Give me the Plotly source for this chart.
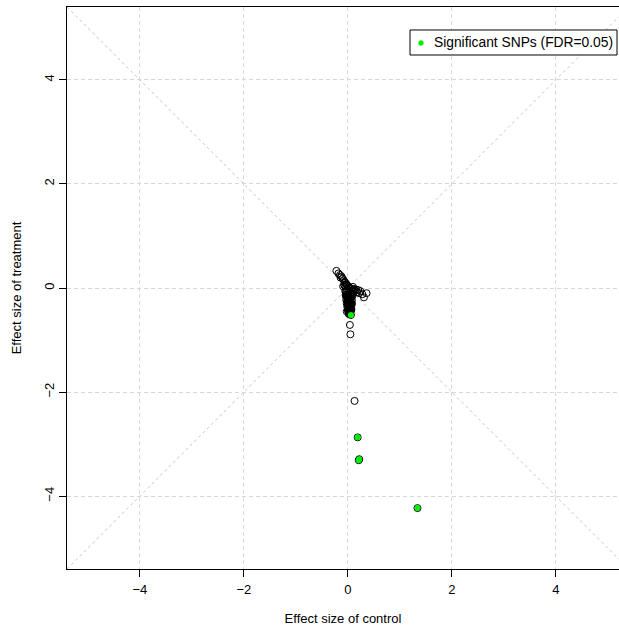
import plotly.graph_objects as go

# Effect sizes (control, treatment) for all SNPs
control = [
    -0.22, -0.18, -0.15, -0.14, -0.12, -0.10, -0.08, -0.06, -0.05, -0.03,
    0.36, 0.31, 0.28, 0.24, 0.22, 0.20, 0.18, 0.16, 0.12, 0.10,
    -0.06, -0.04, -0.02, 0.00, 0.02, 0.04, 0.06, 0.08, -0.05, -0.03,
    -0.01, 0.01, 0.03, 0.05, 0.07, -0.04, -0.02, 0.00, 0.02, 0.04,
    0.06, -0.03, -0.01, 0.01, 0.03, 0.05, 0.07, -0.02, 0.00, 0.02,
    0.04, 0.06, -0.01, 0.01, 0.03, 0.05, 0.00, 0.02, 0.04, 0.06,
    0.01, 0.03, 0.05, 0.02, 0.04, 0.06, 0.03, 0.05,
    -0.04, -0.02, 0.00, 0.02, 0.04, 0.06, 0.08, -0.03, -0.01, 0.01,
    0.03, 0.05, 0.07, -0.02, 0.00, 0.02, 0.04, 0.06, 0.08, 0.10,
    0.09, 0.11, 0.14, 0.08, 0.12, -0.07, -0.09,
    0.04, 0.05, 0.13,
    0.06, 0.19, 0.21, 0.22, 1.34,
]
treatment = [
    0.33, 0.28, 0.25, 0.20, 0.22, 0.18, 0.15, 0.12, 0.10, 0.08,
    -0.10, -0.18, -0.12, -0.06, -0.10, -0.04, -0.08, -0.03, -0.02, 0.02,
    0.05, 0.03, 0.06, 0.04, 0.02, 0.00, -0.02, -0.05, -0.06, -0.08,
    -0.10, -0.09, -0.12, -0.11, -0.14, -0.15, -0.17, -0.19, -0.18, -0.21,
    -0.20, -0.23, -0.25, -0.24, -0.27, -0.26, -0.29, -0.30, -0.32, -0.31,
    -0.34, -0.33, -0.36, -0.38, -0.37, -0.40, -0.42, -0.41, -0.44, -0.43,
    -0.46, -0.45, -0.47, -0.49, -0.48, -0.42, -0.36, -0.30,
    -0.13, -0.16, -0.22, -0.28, -0.35, -0.39, -0.12, -0.07, -0.27, -0.33,
    -0.19, -0.23, -0.41, -0.45, -0.15, -0.50, -0.20, -0.09, -0.24, -0.05,
    -0.15, -0.08, -0.05, -0.31, -0.03, 0.06, 0.03,
    -0.71, -0.89, -2.17,
    -0.52, -2.87, -3.31, -3.29, -4.23,
]
# Significant SNPs (FDR = 0.05)
sig_control = [0.06, 0.19, 0.21, 0.22, 1.34]
sig_treatment = [-0.52, -2.87, -3.31, -3.29, -4.23]

tick_vals = [-4, -2, 0, 2, 4]
tick_text = ["\u22124", "\u22122", "0", "2", "4"]
diag_x = [-5.4, 5.4]
legend_label = "Significant SNPs (FDR=0.05)"
sig_color = "#00ee00"

fig = go.Figure()
fig.add_trace(go.Scatter(
    x=control, y=treatment, mode="markers", showlegend=False,
    marker=dict(symbol="circle-open", size=7, color="black", line=dict(width=1)),
    hoverinfo="skip",
))
fig.add_trace(go.Scatter(
    x=sig_control, y=sig_treatment, mode="markers", showlegend=False,
    name=legend_label,
    marker=dict(symbol="circle", size=6, color=sig_color, line=dict(width=0)),
))

for sgn in (1, -1):
    fig.add_shape(type="line", x0=diag_x[0], y0=sgn * diag_x[0], x1=diag_x[1], y1=sgn * diag_x[1],
                  xref="x", yref="y", layer="below",
                  line=dict(color="#c8c8c8", width=1, dash="dot"))

# legend box drawn manually (R-style legend)
fig.add_shape(type="rect", xref="paper", yref="paper",
              x0=0.6214, x1=0.9964, y0=0.9146, y1=0.9591,
              line=dict(color="black", width=1), fillcolor="white", layer="above")
fig.add_shape(type="circle", xref="paper", yref="paper",
              xsizemode="pixel", ysizemode="pixel", xanchor=0.6413, yanchor=0.936,
              x0=-2.6, x1=2.6, y0=-2.6, y1=2.6,
              line=dict(width=0), fillcolor=sig_color, layer="above")
fig.add_annotation(xref="paper", yref="paper", x=0.6612, y=0.936, text=legend_label,
                   showarrow=False,
                   font=dict(family="Liberation Sans, Arial, sans-serif", size=13.8, color="black"),
                   xanchor="left", yanchor="middle")

font = dict(family="Liberation Sans, Arial, sans-serif", size=13, color="black")
grid = "#d8d8d8"
fig.update_layout(
    width=619, height=630,
    margin=dict(l=67, r=0, t=7, b=61),
    plot_bgcolor="white", paper_bgcolor="white",
    font=font,
    showlegend=False,
    xaxis=dict(
        range=[-5.4, 5.215], tickvals=tick_vals, ticktext=tick_text,
        showgrid=True, gridcolor=grid, griddash="4px,3px", gridwidth=1,
        zeroline=False, showline=True, linecolor="black", linewidth=1, mirror=True,
        ticks="outside", ticklen=7, tickcolor="black", ticklabelstandoff=1,
        title=dict(text="Effect size of control", standoff=18, font=font),
        tickfont=font,
    ),
    yaxis=dict(
        range=[-5.4, 5.4], tickvals=tick_vals, ticktext=tick_text,
        showgrid=True, gridcolor=grid, griddash="4px,3px", gridwidth=1,
        zeroline=False, showline=True, linecolor="black", linewidth=1,
        ticks="outside", ticklen=7, tickcolor="black", tickangle=-90, ticklabelstandoff=0,
        title=dict(text="Effect size of treatment", standoff=17, font=font),
        tickfont=font,
    ),
)

fig.write_html("out.html")
